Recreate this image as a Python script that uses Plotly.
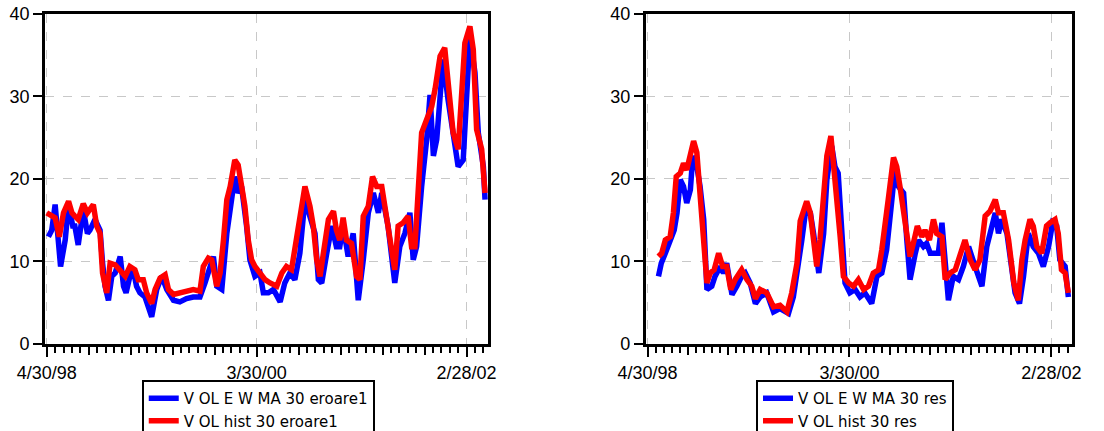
import plotly.graph_objects as go

# ---------------- data (observation index, value) ----------------
tick_vals = [0, 500, 1000]
tick_text = ["4/30/98", "3/30/00", "2/28/02"]

names_left = ["V OL E W MA 30 eroare1", "V OL hist 30 eroare1"]
names_right = ["V OL E W MA 30 res", "V OL hist 30 res"]

left_ewma_x = [4, 12, 20, 28, 33, 44, 52, 62, 67, 75, 87, 97, 103, 115, 127, 133, 139, 147, 155, 163,
               175, 183, 189, 198, 206, 214, 222, 234, 250, 262, 274, 286, 302, 317, 333, 349, 365, 377,
               389, 397, 405, 417, 429, 440, 448, 456, 464, 476, 484, 496, 508, 516, 528, 540, 556, 567,
               579, 591, 603, 615, 627, 639, 647, 655, 667, 679, 690, 698, 706, 718, 730, 742, 754, 766,
               778, 790, 798, 813, 829, 841, 853, 865, 873, 881, 893, 905, 913, 921, 929, 937, 944, 956,
               968, 980, 992, 1000, 1008, 1020, 1028, 1040, 1044]
left_ewma_y = [13.0, 13.8, 16.9, 12.6, 9.4, 12.6, 16.9, 14.3, 14.3, 12.0, 16.3, 13.4, 13.8, 15.1, 13.8,
               9.8, 7.0, 5.3, 8.2, 8.6, 10.6, 7.0, 6.2, 8.2, 9.0, 7.0, 6.2, 5.7, 3.3, 6.6, 8.2, 6.6, 5.3,
               5.1, 5.5, 5.7, 5.7, 7.4, 9.4, 10.6, 7.0, 6.6, 13.4, 17.5, 20.3, 18.3, 19.1, 14.3, 10.2, 8.2,
               8.6, 6.2, 6.2, 6.6, 5.1, 7.4, 8.6, 7.8, 11.0, 17.5, 15.5, 13.4, 7.8, 7.4, 11.0, 14.3, 11.8,
               11.8, 14.3, 10.6, 13.4, 5.3, 10.2, 15.9, 18.3, 15.9, 18.3, 14.3, 7.4, 11.8, 13.4, 15.9, 10.2,
               11.8, 19.1, 24.8, 30.2, 22.8, 24.8, 30.4, 34.5, 29.6, 25.6, 21.5, 22.3, 31.7, 37.3, 32.9,
               25.6, 21.5, 17.5]

left_hist_x = [0, 8, 20, 30, 40, 52, 60, 67, 75, 87, 97, 111, 119, 127, 133, 143, 151, 163, 175, 187,
               198, 210, 218, 230, 238, 250, 258, 270, 282, 290, 302, 317, 333, 349, 365, 373, 385, 393,
               405, 413, 421, 429, 437, 448, 456, 464, 472, 480, 488, 496, 508, 520, 532, 548, 560, 571,
               583, 595, 603, 615, 627, 635, 643, 651, 659, 671, 683, 690, 698, 706, 714, 726, 738, 746,
               754, 766, 776, 786, 798, 810, 817, 829, 837, 849, 861, 869, 877, 885, 893, 905, 917, 925,
               937, 948, 956, 968, 980, 988, 996, 1008, 1016, 1024, 1036, 1044]
left_hist_y = [15.9, 15.7, 15.3, 13.0, 15.9, 17.3, 15.9, 15.5, 15.1, 17.0, 15.9, 16.9, 14.3, 13.4, 8.6,
               6.2, 9.8, 9.6, 9.0, 8.2, 9.4, 9.0, 7.8, 7.8, 6.2, 4.9, 6.6, 8.0, 8.4, 6.6, 6.0, 6.2, 6.4,
               6.6, 6.4, 9.4, 10.4, 10.2, 7.0, 8.6, 12.6, 17.5, 19.1, 22.3, 21.7, 19.1, 16.7, 12.6, 10.2,
               9.4, 8.6, 7.8, 7.4, 7.0, 8.6, 9.4, 9.0, 12.6, 15.9, 19.1, 16.7, 14.3, 10.2, 8.2, 11.0, 15.1,
               16.1, 13.8, 12.6, 15.3, 12.6, 12.2, 8.2, 7.8, 15.5, 16.7, 20.3, 19.1, 19.1, 15.5, 13.4, 9.0,
               14.3, 14.7, 15.5, 11.8, 11.8, 19.1, 25.6, 27.2, 28.8, 30.9, 34.9, 35.9, 31.7, 25.6, 23.6,
               29.6, 36.5, 38.5, 35.7, 26.0, 23.6, 18.3]

right_ewma_x = [27, 34, 44, 56, 66, 73, 81, 89, 97, 106, 112, 122, 130, 139, 147, 159, 167, 180, 188,
                196, 209, 221, 233, 242, 254, 267, 279, 295, 312, 328, 349, 361, 371, 382, 393, 403, 411,
                424, 436, 444, 456, 464, 472, 480, 489, 501, 514, 526, 538, 555, 568, 580, 592, 605, 613,
                621, 634, 642, 650, 663, 671, 683, 691, 700, 712, 720, 729, 737, 745, 757, 770, 782, 795,
                811, 828, 840, 852, 861, 869, 877, 890, 902, 910, 921, 931, 943, 955, 968, 980, 993, 1003,
                1013, 1021, 1034, 1042]
right_ewma_y = [8.2, 9.8, 11.0, 12.6, 13.8, 15.9, 19.9, 19.1, 17.1, 18.7, 22.8, 21.5, 19.1, 15.1, 6.6,
                7.0, 8.2, 9.4, 8.6, 9.8, 6.0, 7.0, 8.2, 8.6, 7.4, 4.9, 5.7, 6.2, 3.9, 4.3, 3.7, 5.7, 8.6,
                12.6, 16.7, 15.9, 13.4, 8.6, 13.4, 19.9, 24.0, 21.5, 20.7, 13.4, 7.4, 6.2, 6.6, 5.7, 6.2,
                4.9, 8.2, 8.6, 11.4, 17.5, 21.5, 19.1, 18.3, 12.6, 7.8, 11.0, 12.6, 11.8, 12.2, 11.0, 11.0,
                11.0, 14.7, 9.4, 5.3, 8.2, 7.8, 9.4, 11.8, 9.4, 7.0, 11.8, 14.3, 15.9, 13.4, 15.1, 13.4,
                9.4, 6.2, 4.9, 8.2, 13.4, 11.8, 11.0, 9.4, 11.8, 14.7, 14.3, 10.2, 9.4, 5.7]

right_hist_x = [27, 35, 44, 56, 64, 71, 81, 89, 97, 106, 114, 122, 130, 137, 147, 155, 165, 176, 186,
                196, 206, 217, 233, 246, 258, 267, 279, 295, 312, 328, 345, 357, 370, 378, 386, 394, 403,
                411, 419, 427, 436, 444, 454, 462, 470, 477, 485, 498, 510, 522, 535, 547, 559, 572, 580,
                588, 597, 609, 617, 625, 634, 642, 650, 660, 668, 679, 687, 698, 708, 716, 729, 737, 749,
                762, 774, 786, 799, 811, 823, 836, 848, 861, 869, 881, 894, 907, 918, 927, 935, 947, 955,
                964, 976, 988, 997, 1009, 1017, 1025, 1034, 1042]
right_hist_y = [10.6, 11.0, 12.6, 13.0, 15.9, 20.3, 20.7, 21.9, 21.1, 22.8, 24.6, 23.2, 17.5, 14.3, 7.4,
                8.6, 9.0, 11.0, 9.4, 9.4, 6.6, 7.8, 9.0, 7.8, 7.0, 5.5, 6.6, 6.2, 4.5, 4.7, 3.9, 6.2, 9.8,
                14.9, 16.3, 17.3, 15.9, 12.2, 9.4, 12.6, 17.5, 22.8, 25.2, 21.5, 17.5, 13.0, 8.2, 7.4, 7.0,
                7.8, 6.6, 7.0, 8.6, 9.0, 11.4, 15.1, 17.9, 22.6, 21.5, 19.1, 15.9, 13.4, 10.6, 12.6, 14.3,
                13.0, 13.8, 12.6, 15.1, 13.4, 13.0, 7.8, 8.6, 9.0, 10.6, 12.6, 10.2, 9.0, 10.2, 15.5, 16.1,
                17.5, 15.9, 15.9, 12.6, 7.4, 5.3, 10.2, 12.6, 15.1, 14.3, 11.8, 11.0, 14.3, 14.7, 15.1,
                13.4, 9.0, 8.6, 6.2]

x_range = [-4, 1051]
y_range = [0, 40]
y_ticks = [0, 10, 20, 30, 40]
major_ticks = list(range(0, 1001, 100))

# ---------------- figure ----------------
BLUE = "#0000ff"
RED = "#ff0000"
LW = 5.5
FONT = "Liberation Sans, Arial, sans-serif"
LEG_FONT = "DejaVu Sans, Liberation Sans, sans-serif"

fig = go.Figure()
fig.add_trace(go.Scatter(x=left_ewma_x, y=left_ewma_y, mode="lines", name=names_left[0],
                         line=dict(color=BLUE, width=LW), xaxis="x", yaxis="y", legend="legend"))
fig.add_trace(go.Scatter(x=left_hist_x, y=left_hist_y, mode="lines", name=names_left[1],
                         line=dict(color=RED, width=LW), xaxis="x", yaxis="y", legend="legend"))
fig.add_trace(go.Scatter(x=right_ewma_x, y=right_ewma_y, mode="lines", name=names_right[0],
                         line=dict(color=BLUE, width=LW), xaxis="x2", yaxis="y2", legend="legend2"))
fig.add_trace(go.Scatter(x=right_hist_x, y=right_hist_y, mode="lines", name=names_right[1],
                         line=dict(color=RED, width=LW), xaxis="x2", yaxis="y2", legend="legend2"))
# empty helper traces so the overlay tick axes exist
fig.add_trace(go.Scatter(x=[], y=[], xaxis="x3", yaxis="y", showlegend=False, hoverinfo="skip"))
fig.add_trace(go.Scatter(x=[], y=[], xaxis="x4", yaxis="y2", showlegend=False, hoverinfo="skip"))

ydom = [0.2019, 0.9675]
dom_left = [0.0408, 0.4420]
dom_right = [0.5851, 0.9710]

def xaxis_main(domain, anchor):
    return dict(domain=domain, anchor=anchor, range=x_range, showline=True, linecolor="black",
                linewidth=3, mirror=True, ticks="outside", tickvals=tick_vals, ticktext=tick_text,
                ticklen=10, tickwidth=2, tickcolor="black", showgrid=True, griddash="dash",
                gridcolor="#c8c8c8", gridwidth=1, zeroline=False,
                minor=dict(dtick=20, tick0=0, ticks="outside", ticklen=6, tickwidth=2,
                           tickcolor="black", showgrid=False),
                tickfont=dict(size=18, color="black", family=FONT))

def xaxis_overlay(domain, anchor, over):
    return dict(domain=domain, anchor=anchor, overlaying=over, range=x_range, showline=False,
                ticks="outside", tickvals=major_ticks, ticklen=10, tickwidth=2, tickcolor="black",
                showticklabels=False, showgrid=False, zeroline=False)

def yaxis_main(anchor):
    return dict(domain=ydom, anchor=anchor, range=y_range, tickvals=y_ticks, showline=True,
                linecolor="black", linewidth=3, mirror=True, ticks="outside", ticklen=9,
                tickwidth=2, tickcolor="black", showgrid=True, griddash="dash",
                gridcolor="#c8c8c8", gridwidth=1, zeroline=False,
                tickfont=dict(size=18, color="black", family=FONT))

legend_style = dict(xanchor="left", yanchor="top", bgcolor="white", bordercolor="black",
                    borderwidth=2, font=dict(size=15, color="black", family=LEG_FONT),
                    tracegroupgap=0, itemwidth=30)

fig.update_layout(
    width=1104, height=431,
    margin=dict(l=0, r=0, t=0, b=0, autoexpand=False),
    paper_bgcolor="white", plot_bgcolor="white",
    font=dict(family=FONT, size=18, color="black"),
    xaxis=xaxis_main(dom_left, "y"),
    xaxis2=xaxis_main(dom_right, "y2"),
    xaxis3=xaxis_overlay(dom_left, "y", "x"),
    xaxis4=xaxis_overlay(dom_right, "y2", "x2"),
    yaxis=yaxis_main("x"),
    yaxis2=yaxis_main("x2"),
    legend=dict(x=0.1284, y=0.1183, **legend_style),
    legend2=dict(x=0.6848, y=0.1183, **legend_style),
    showlegend=True,
)

fig.write_html("out.html")
